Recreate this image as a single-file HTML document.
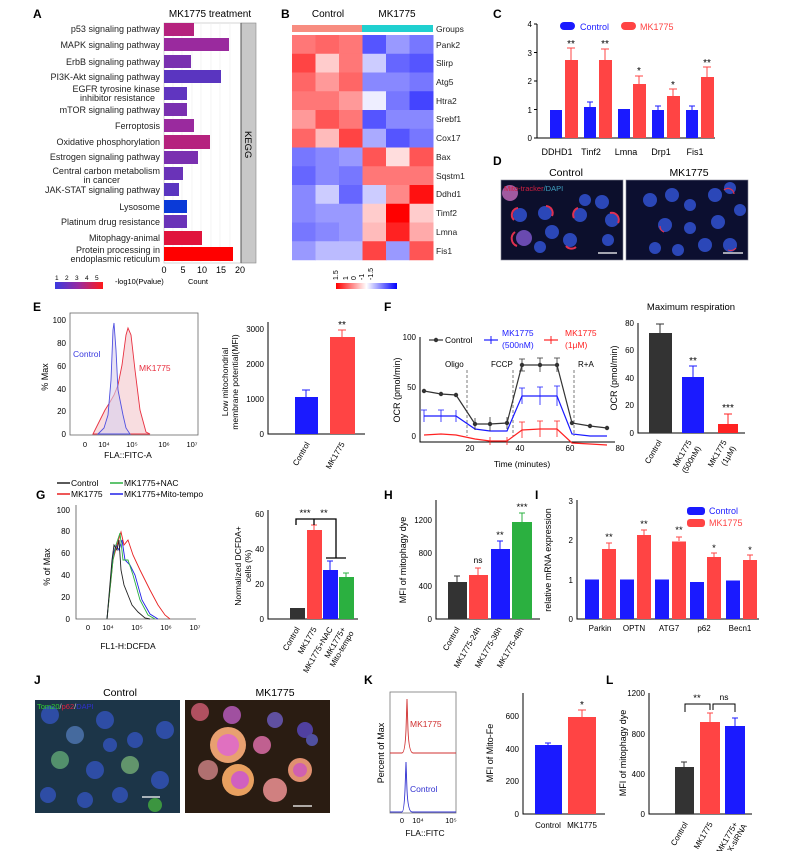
<!DOCTYPE html>
<html><head><meta charset="utf-8"><style>
html,body{margin:0;padding:0;background:#fff;}
svg{display:block;font-family:"Liberation Sans",Arial,sans-serif;}
</style></head><body>
<svg width="796" height="851" viewBox="0 0 796 851" xmlns="http://www.w3.org/2000/svg">
<defs>
<linearGradient id="pg" x1="0" x2="1"><stop offset="0" stop-color="#3a3ae0"/><stop offset="0.5" stop-color="#9a2a9e"/><stop offset="1" stop-color="#ff1a1a"/></linearGradient>
<linearGradient id="hg" x1="0" x2="1"><stop offset="0" stop-color="#f00"/><stop offset="0.5" stop-color="#fff"/><stop offset="1" stop-color="#00f"/></linearGradient>
</defs>
<rect width="796" height="851" fill="#fff"/>
<g font-weight="bold" font-size="12">
<text x="33" y="18">A</text><text x="281" y="18">B</text><text x="493" y="18">C</text><text x="493" y="165">D</text>
<text x="33" y="311">E</text><text x="384" y="311">F</text><text x="36" y="499">G</text><text x="384" y="499">H</text><text x="535" y="499">I</text>
<text x="34" y="684">J</text><text x="364" y="684">K</text><text x="606" y="684">L</text>
</g>

<!-- A -->
<text x="210" y="17" font-size="10" text-anchor="middle">MK1775 treatment</text>
<rect x="164" y="23" width="77" height="240" fill="#fff" stroke="#bbb" stroke-width="0.6"/>
<g stroke="#ececec" stroke-width="0.6">
<line x1="173" y1="23" x2="173" y2="263"/><line x1="182" y1="23" x2="182" y2="263"/><line x1="192" y1="23" x2="192" y2="263"/><line x1="201" y1="23" x2="201" y2="263"/><line x1="211" y1="23" x2="211" y2="263"/><line x1="220" y1="23" x2="220" y2="263"/><line x1="230" y1="23" x2="230" y2="263"/>
</g>
<rect x="241" y="23" width="15" height="240" fill="#c8c8c8" stroke="#888" stroke-width="0.6"/>
<line x1="241" y1="23" x2="241" y2="263" stroke="#555"/>
<text x="0" y="0" font-size="9.5" transform="translate(245,131) rotate(90)">KEGG</text>
<g>
<rect x="164" y="23" width="30" height="13" fill="#b5227e"/>
<rect x="164" y="38" width="65" height="13" fill="#9a2a9e"/>
<rect x="164" y="55" width="27" height="13" fill="#7a30b0"/>
<rect x="164" y="70" width="57" height="13" fill="#5a35c0"/>
<rect x="164" y="87" width="23" height="13" fill="#6035c0"/>
<rect x="164" y="103" width="23" height="13" fill="#7a30b0"/>
<rect x="164" y="119" width="30" height="13" fill="#9a2a9e"/>
<rect x="164" y="135" width="46" height="14" fill="#b5227e"/>
<rect x="164" y="151" width="34" height="13" fill="#7a30b0"/>
<rect x="164" y="167" width="19" height="13" fill="#6a33b8"/>
<rect x="164" y="183" width="15" height="13" fill="#5a35c0"/>
<rect x="164" y="200" width="23" height="13" fill="#0a3ad8"/>
<rect x="164" y="215" width="23" height="13" fill="#6a33b8"/>
<rect x="164" y="231" width="38" height="14" fill="#e0143c"/>
<rect x="164" y="247" width="69" height="14" fill="#ff0000"/>
</g>
<g font-size="9" text-anchor="end" fill="#222">
<text x="160" y="32">p53 signaling pathway</text>
<text x="160" y="48">MAPK signaling pathway</text>
<text x="160" y="65">ErbB signaling pathway</text>
<text x="160" y="80">PI3K-Akt signaling pathway</text>
<text x="160" y="92">EGFR tyrosine kinase</text><text x="155" y="101">inhibitor resistance</text>
<text x="160" y="113">mTOR signaling pathway</text>
<text x="160" y="129">Ferroptosis</text>
<text x="160" y="145">Oxidative phosphorylation</text>
<text x="160" y="160">Estrogen signaling pathway</text>
<text x="160" y="174">Central carbon metabolism</text><text x="120" y="183">in cancer</text>
<text x="160" y="193">JAK-STAT signaling pathway</text>
<text x="160" y="210">Lysosome</text>
<text x="160" y="225">Platinum drug resistance</text>
<text x="160" y="241">Mitophagy-animal</text>
<text x="160" y="253">Protein processing in</text><text x="160" y="262">endoplasmic reticulum</text>
</g>
<g font-size="9" text-anchor="middle"><text x="164" y="273">0</text><text x="183" y="273">5</text><text x="202" y="273">10</text><text x="221" y="273">15</text><text x="240" y="273">20</text></g>
<g font-size="6.5"><text x="55" y="280">1</text><text x="65" y="280">2</text><text x="75" y="280">3</text><text x="85" y="280">4</text><text x="95" y="280">5</text></g>
<rect x="55" y="282" width="48" height="7" fill="url(#pg)"/>
<text x="115" y="284" font-size="7.5">-log10(Pvalue)</text><text x="188" y="284" font-size="7.5">Count</text>

<!-- B heatmap -->
<text x="328" y="17" font-size="10" text-anchor="middle">Control</text>
<text x="397" y="17" font-size="10" text-anchor="middle">MK1775</text>
<rect x="292" y="25" width="70" height="7" fill="#f88c80"/>
<rect x="362" y="25" width="71" height="7" fill="#20d0d0"/>
<g font-size="8.5" fill="#222">
<text x="436" y="32">Groups</text>
<text x="436" y="48">Pank2</text><text x="436" y="66">Slirp</text><text x="436" y="85">Atg5</text><text x="436" y="104">Htra2</text><text x="436" y="122">Srebf1</text><text x="436" y="141">Cox17</text><text x="436" y="160">Bax</text><text x="436" y="179">Sqstm1</text><text x="436" y="197">Ddhd1</text><text x="436" y="216">Timf2</text><text x="436" y="235">Lmna</text><text x="436" y="254">Fis1</text>
</g>
<g id="hm">
<rect x="292" y="35" width="24" height="19" fill="#f77"/><rect x="315.5" y="35" width="24" height="19" fill="#f66"/><rect x="339" y="35" width="24" height="19" fill="#f77"/><rect x="362.5" y="35" width="24" height="19" fill="#55f"/><rect x="386" y="35" width="24" height="19" fill="#99f"/><rect x="409.5" y="35" width="24" height="19" fill="#77f"/>
<rect x="292" y="53.75" width="24" height="19" fill="#f44"/><rect x="315.5" y="53.75" width="24" height="19" fill="#fcc"/><rect x="339" y="53.75" width="24" height="19" fill="#f77"/><rect x="362.5" y="53.75" width="24" height="19" fill="#ccf"/><rect x="386" y="53.75" width="24" height="19" fill="#66f"/><rect x="409.5" y="53.75" width="24" height="19" fill="#55f"/>
<rect x="292" y="72.5" width="24" height="19" fill="#f66"/><rect x="315.5" y="72.5" width="24" height="19" fill="#f99"/><rect x="339" y="72.5" width="24" height="19" fill="#f66"/><rect x="362.5" y="72.5" width="24" height="19" fill="#88f"/><rect x="386" y="72.5" width="24" height="19" fill="#88f"/><rect x="409.5" y="72.5" width="24" height="19" fill="#77f"/>
<rect x="292" y="91.25" width="24" height="19" fill="#f77"/><rect x="315.5" y="91.25" width="24" height="19" fill="#f77"/><rect x="339" y="91.25" width="24" height="19" fill="#f99"/><rect x="362.5" y="91.25" width="24" height="19" fill="#eef"/><rect x="386" y="91.25" width="24" height="19" fill="#77f"/><rect x="409.5" y="91.25" width="24" height="19" fill="#44f"/>
<rect x="292" y="110" width="24" height="19" fill="#f99"/><rect x="315.5" y="110" width="24" height="19" fill="#f55"/><rect x="339" y="110" width="24" height="19" fill="#f77"/><rect x="362.5" y="110" width="24" height="19" fill="#55f"/><rect x="386" y="110" width="24" height="19" fill="#88f"/><rect x="409.5" y="110" width="24" height="19" fill="#88f"/>
<rect x="292" y="128.75" width="24" height="19" fill="#f66"/><rect x="315.5" y="128.75" width="24" height="19" fill="#fbb"/><rect x="339" y="128.75" width="24" height="19" fill="#f44"/><rect x="362.5" y="128.75" width="24" height="19" fill="#aaf"/><rect x="386" y="128.75" width="24" height="19" fill="#55f"/><rect x="409.5" y="128.75" width="24" height="19" fill="#77f"/>
<rect x="292" y="147.5" width="24" height="19" fill="#77f"/><rect x="315.5" y="147.5" width="24" height="19" fill="#88f"/><rect x="339" y="147.5" width="24" height="19" fill="#99f"/><rect x="362.5" y="147.5" width="24" height="19" fill="#f55"/><rect x="386" y="147.5" width="24" height="19" fill="#fdd"/><rect x="409.5" y="147.5" width="24" height="19" fill="#f55"/>
<rect x="292" y="166.25" width="24" height="19" fill="#66f"/><rect x="315.5" y="166.25" width="24" height="19" fill="#88f"/><rect x="339" y="166.25" width="24" height="19" fill="#77f"/><rect x="362.5" y="166.25" width="24" height="19" fill="#f77"/><rect x="386" y="166.25" width="24" height="19" fill="#f77"/><rect x="409.5" y="166.25" width="24" height="19" fill="#f77"/>
<rect x="292" y="185" width="24" height="19" fill="#88f"/><rect x="315.5" y="185" width="24" height="19" fill="#ccf"/><rect x="339" y="185" width="24" height="19" fill="#66f"/><rect x="362.5" y="185" width="24" height="19" fill="#ccf"/><rect x="386" y="185" width="24" height="19" fill="#f88"/><rect x="409.5" y="185" width="24" height="19" fill="#f11"/>
<rect x="292" y="203.75" width="24" height="19" fill="#88f"/><rect x="315.5" y="203.75" width="24" height="19" fill="#99f"/><rect x="339" y="203.75" width="24" height="19" fill="#99f"/><rect x="362.5" y="203.75" width="24" height="19" fill="#fcc"/><rect x="386" y="203.75" width="24" height="19" fill="#f00"/><rect x="409.5" y="203.75" width="24" height="19" fill="#fcc"/>
<rect x="292" y="222.5" width="24" height="19" fill="#77f"/><rect x="315.5" y="222.5" width="24" height="19" fill="#88f"/><rect x="339" y="222.5" width="24" height="19" fill="#99f"/><rect x="362.5" y="222.5" width="24" height="19" fill="#fbb"/><rect x="386" y="222.5" width="24" height="19" fill="#f22"/><rect x="409.5" y="222.5" width="24" height="19" fill="#faa"/>
<rect x="292" y="241.25" width="24" height="19" fill="#99f"/><rect x="315.5" y="241.25" width="24" height="19" fill="#bbf"/><rect x="339" y="241.25" width="24" height="19" fill="#bbf"/><rect x="362.5" y="241.25" width="24" height="19" fill="#f44"/><rect x="386" y="241.25" width="24" height="19" fill="#99f"/><rect x="409.5" y="241.25" width="24" height="19" fill="#f55"/>
</g>
<g font-size="7"><text transform="translate(338,280) rotate(-90)">1.5</text><text transform="translate(348,280) rotate(-90)">1</text><text transform="translate(356,280) rotate(-90)">0</text><text transform="translate(364,280) rotate(-90)">-1</text><text transform="translate(373,280) rotate(-90)">-1.5</text></g>
<rect x="336" y="283" width="61" height="6" fill="url(#hg)"/>

<!-- C -->
<g font-size="8" text-anchor="end"><text x="532" y="141">0</text><text x="532" y="113">1</text><text x="532" y="84">2</text><text x="532" y="56">3</text><text x="532" y="27">4</text></g>
<path d="M537 24V138H715" fill="none" stroke="#000"/>
<g stroke="#000"><line x1="534" y1="138" x2="537" y2="138"/><line x1="534" y1="109.5" x2="537" y2="109.5"/><line x1="534" y1="81" x2="537" y2="81"/><line x1="534" y1="52.5" x2="537" y2="52.5"/><line x1="534" y1="24" x2="537" y2="24"/></g>
<rect x="560" y="22" width="15" height="8" rx="4" fill="#1a1aff"/><text x="580" y="30" font-size="9" fill="#1a1aff">Control</text>
<rect x="621" y="22" width="15" height="8" rx="4" fill="#f44"/><text x="640" y="30" font-size="9" fill="#f44">MK1775</text>
<g fill="#1a1aff" stroke="#1a1aff">
<rect x="550" y="110" width="12" height="28" stroke="none"/>
<rect x="584" y="107" width="12" height="31" stroke="none"/><line x1="590" y1="107" x2="590" y2="102"/><line x1="587" y1="102" x2="593" y2="102"/>
<rect x="618" y="109" width="12" height="29" stroke="none"/>
<rect x="652" y="110" width="12" height="28" stroke="none"/><line x1="658" y1="110" x2="658" y2="106"/><line x1="655" y1="106" x2="661" y2="106"/>
<rect x="686" y="110" width="12" height="28" stroke="none"/><line x1="692" y1="110" x2="692" y2="106"/><line x1="689" y1="106" x2="695" y2="106"/>
</g>
<g fill="#f44" stroke="#f44">
<rect x="565" y="60" width="13" height="78" stroke="none"/><line x1="571" y1="60" x2="571" y2="48"/><line x1="567" y1="48" x2="575" y2="48"/>
<rect x="599" y="60" width="13" height="78" stroke="none"/><line x1="605" y1="60" x2="605" y2="49"/><line x1="601" y1="49" x2="609" y2="49"/>
<rect x="633" y="84" width="13" height="54" stroke="none"/><line x1="639" y1="84" x2="639" y2="76"/><line x1="635" y1="76" x2="643" y2="76"/>
<rect x="667" y="96" width="13" height="42" stroke="none"/><line x1="673" y1="96" x2="673" y2="89"/><line x1="669" y1="89" x2="677" y2="89"/>
<rect x="701" y="77" width="13" height="61" stroke="none"/><line x1="707" y1="77" x2="707" y2="67"/><line x1="703" y1="67" x2="711" y2="67"/>
</g>
<g font-size="10" text-anchor="middle"><text x="571" y="47">**</text><text x="605" y="47">**</text><text x="639" y="74">*</text><text x="673" y="88">*</text><text x="707" y="66">**</text></g>
<g font-size="9" text-anchor="middle"><text x="557" y="155">DDHD1</text><text x="591" y="155">Tinf2</text><text x="626" y="155">Lmna</text><text x="661" y="155">Drp1</text><text x="695" y="155">Fis1</text></g>

<!-- D -->
<text x="566" y="176" font-size="10.5" text-anchor="middle">Control</text>
<text x="689" y="176" font-size="10.5" text-anchor="middle">MK1775</text>
<rect x="501" y="180" width="122" height="80" fill="#0c0f2c" stroke="#889" stroke-width="0.6"/>
<rect x="626" y="180" width="122" height="80" fill="#0c0f30" stroke="#889" stroke-width="0.6"/>
<g fill="#2b47b8">
<circle cx="510" cy="193" r="8" fill="#a05aa0"/><circle cx="520" cy="215" r="7"/><circle cx="524" cy="238" r="8" fill="#6a4ab0"/><circle cx="545" cy="213" r="7"/><circle cx="552" cy="232" r="7"/><circle cx="570" cy="240" r="7"/><circle cx="580" cy="215" r="7"/><circle cx="602" cy="202" r="7"/><circle cx="612" cy="220" r="7"/><circle cx="608" cy="240" r="6"/><circle cx="585" cy="200" r="6"/><circle cx="540" cy="247" r="6"/>
<circle cx="650" cy="200" r="7"/><circle cx="672" cy="195" r="7"/><circle cx="690" cy="205" r="6"/><circle cx="715" cy="195" r="7"/><circle cx="730" cy="188" r="6"/><circle cx="665" cy="225" r="7"/><circle cx="690" cy="228" r="6"/><circle cx="718" cy="222" r="7"/><circle cx="740" cy="210" r="6"/><circle cx="705" cy="245" r="7"/><circle cx="730" cy="245" r="7"/><circle cx="655" cy="248" r="6"/><circle cx="678" cy="250" r="6"/>
</g>
<g fill="none" stroke="#e03050" stroke-width="2">
<path d="M518 208 a7 7 0 0 0 -4 12"/><path d="M546 206 a7 7 0 0 1 6 10"/><path d="M515 232 a8 8 0 0 0 2 14"/><path d="M578 208 a7 7 0 0 0 -4 10"/><path d="M610 213 a7 7 0 0 1 8 10"/><path d="M566 246 a7 7 0 0 0 10 1"/>
<path d="M724 190 a6 6 0 0 1 10 4" stroke-width="1.2"/><path d="M660 226 a6 6 0 0 0 4 6" stroke-width="1.2"/><path d="M728 250 a7 7 0 0 0 8 -2" stroke-width="1.2"/>
</g>
<text x="504" y="191" font-size="7.5" fill="#d02040">Mito-tracker<tspan fill="#40a0c0">/DAPI</tspan></text>
<line x1="598" y1="253" x2="617" y2="253" stroke="#fff" stroke-width="1.2"/><line x1="723" y1="253" x2="743" y2="253" stroke="#fff" stroke-width="1.2"/>

<!-- E hist -->
<rect x="70" y="313" width="128" height="122" fill="none" stroke="#666" stroke-width="0.8"/>
<path d="M93 434 L100 420 L105 410 L110 402 L114 395 L118 385 L122 365 L126 335 L128 328 L131 335 L135 370 L140 410 L146 432 L150 434Z" fill="#f6d4d8" fill-opacity="0.8" stroke="#e83040" stroke-width="0.9"/>
<path d="M98 434 L104 428 L108 415 L111 380 L113 330 L114 323 L116 350 L118 390 L120 400 L123 415 L126 428 L130 434Z" fill="#d8d0ec" fill-opacity="0.6" stroke="#5050e0" stroke-width="0.9"/>
<text x="73" y="357" font-size="8.5" fill="#3a3ae0">Control</text>
<text x="139" y="371" font-size="8.5" fill="#e83040">MK1775</text>
<g font-size="8" text-anchor="end"><text x="66" y="323">100</text><text x="66" y="346">80</text><text x="66" y="369">60</text><text x="66" y="392">40</text><text x="66" y="414">20</text><text x="66" y="437">0</text></g>
<g font-size="7.5" text-anchor="middle"><text x="85" y="447">0</text><text x="104" y="447">10⁴</text><text x="132" y="447">10⁵</text><text x="164" y="447">10⁶</text><text x="192" y="447">10⁷</text></g>
<text transform="translate(48,377) rotate(-90)" font-size="9" text-anchor="middle">% Max</text>
<text x="128" y="458" font-size="8.5" text-anchor="middle">FLA::FITC-A</text>
<!-- E bar -->
<path d="M268 322V434H365" fill="none" stroke="#000"/>
<g font-size="8" text-anchor="end"><text x="264" y="437">0</text><text x="264" y="402">1000</text><text x="264" y="367">2000</text><text x="264" y="332">3000</text></g>
<rect x="295" y="397" width="23" height="37" fill="#1a1aff"/><path d="M306 397V390M302 390H310" stroke="#1a1aff"/>
<rect x="330" y="337" width="25" height="97" fill="#f44"/><path d="M342 337V330M338 330H346" stroke="#f44"/>
<text x="342" y="328" font-size="10" text-anchor="middle">**</text>
<text transform="translate(228,382) rotate(-90)" font-size="8.5" text-anchor="middle">Low mitochondrial</text>
<text transform="translate(238,382) rotate(-90)" font-size="8.5" text-anchor="middle">membrane potential(MFI)</text>
<text transform="translate(310,444) rotate(-60)" font-size="8" text-anchor="end">Control</text>
<text transform="translate(345,444) rotate(-60)" font-size="8" text-anchor="end">MK1775</text>

<!-- F line -->
<path d="M420 337V442H615" fill="none" stroke="#000"/>
<g font-size="8" text-anchor="end"><text x="416" y="439">0</text><text x="416" y="390">50</text><text x="416" y="340">100</text></g>
<g font-size="8" text-anchor="middle"><text x="470" y="451">20</text><text x="520" y="451">40</text><text x="570" y="451">60</text><text x="620" y="451">80</text></g>
<text x="522" y="467" font-size="8.5" text-anchor="middle">Time (minutes)</text>
<text transform="translate(400,390) rotate(-90)" font-size="9" text-anchor="middle">OCR (pmol/min)</text>
<g stroke="#444" stroke-dasharray="3,2" stroke-width="0.7"><line x1="467" y1="370" x2="467" y2="436"/><line x1="513" y1="370" x2="513" y2="436"/><line x1="574" y1="370" x2="574" y2="436"/></g>
<g font-size="8"><text x="445" y="367">Oligo</text><text x="491" y="367">FCCP</text><text x="578" y="367">R+A</text></g>
<polyline points="424,391 441,394 456,395 475,424 490,424 507,423 522,365 540,365 557,365 572,423 590,426 607,428" fill="none" stroke="#333" stroke-width="1.2"/>
<polyline points="424,416 441,416 456,416 475,429 490,431 507,431 522,396 540,396 557,396 572,434 590,436 607,436" fill="none" stroke="#1a1aff" stroke-width="1.2"/>
<polyline points="424,435 441,434 456,435 475,439 490,441 507,441 522,430 540,429 557,429 572,443 590,444 607,445" fill="none" stroke="#f22" stroke-width="1.2"/>
<g fill="#333"><circle cx="424" cy="391" r="2.2"/><circle cx="441" cy="394" r="2.2"/><circle cx="456" cy="395" r="2.2"/><circle cx="475" cy="424" r="2.2"/><circle cx="490" cy="424" r="2.2"/><circle cx="507" cy="423" r="2.2"/><circle cx="522" cy="365" r="2.2"/><circle cx="540" cy="365" r="2.2"/><circle cx="557" cy="365" r="2.2"/><circle cx="572" cy="423" r="2.2"/><circle cx="590" cy="426" r="2.2"/><circle cx="607" cy="428" r="2.2"/></g>
<g stroke="#333" stroke-width="0.8"><path d="M522 359V371M519 359H525M519 371H525M540 358V372M537 358H543M557 358V372M554 358H560M475 418V430M490 417V431M507 417V429"/></g>
<g stroke="#1a1aff" stroke-width="0.8"><path d="M424 410V422M421 410H427M441 410V422M438 410H444M456 410V422M522 388V404M519 388H525M540 387V405M537 387H543M557 386V406M554 386H560"/></g>
<g stroke="#f22" stroke-width="0.8"><path d="M522 422V438M519 422H525M540 421V437M537 421H543M557 421V437M554 421H560M490 437V445M507 437V445"/></g>
<line x1="429" y1="340" x2="443" y2="340" stroke="#333" stroke-width="1.2"/><circle cx="436" cy="340" r="2.2" fill="#333"/><text x="445" y="343" font-size="8.5">Control</text>
<line x1="484" y1="340" x2="498" y2="340" stroke="#1a1aff" stroke-width="1.2"/><path d="M491 336V344" stroke="#1a1aff"/><text x="502" y="336" font-size="8.5" fill="#1a1aff">MK1775</text><text x="502" y="348" font-size="8.5" fill="#1a1aff">(500nM)</text>
<line x1="544" y1="340" x2="558" y2="340" stroke="#f22" stroke-width="1.2"/><path d="M551 336V344" stroke="#f22"/><text x="565" y="336" font-size="8.5" fill="#f22">MK1775</text><text x="565" y="348" font-size="8.5" fill="#f22">(1μM)</text>
<!-- Max resp -->
<text x="691" y="310" font-size="9.5" text-anchor="middle">Maximum respiration</text>
<path d="M638 323V433H745" fill="none" stroke="#000"/>
<g font-size="8" text-anchor="end"><text x="634" y="436">0</text><text x="634" y="408">20</text><text x="634" y="381">40</text><text x="634" y="353">60</text><text x="634" y="326">80</text></g>
<rect x="649" y="333" width="23" height="100" fill="#333"/><path d="M660 333V324M656 324H664" stroke="#333"/>
<rect x="682" y="377" width="22" height="56" fill="#1a1aff"/><path d="M693 377V366M689 366H697" stroke="#1a1aff"/>
<rect x="718" y="424" width="20" height="9" fill="#f22"/><path d="M728 424V414M724 414H732" stroke="#f22"/>
<text x="693" y="364" font-size="10" text-anchor="middle">**</text><text x="728" y="411" font-size="10" text-anchor="middle">***</text>
<text transform="translate(617,378) rotate(-90)" font-size="9" text-anchor="middle">OCR (pmol/min)</text>
<g font-size="8" text-anchor="end"><text transform="translate(662,442) rotate(-60)">Control</text><text transform="translate(692,442) rotate(-60)">MK1775</text><text transform="translate(701,448) rotate(-60)">(500nM)</text><text transform="translate(727,442) rotate(-60)">MK1775</text><text transform="translate(736,448) rotate(-60)">(1μM)</text></g>

<!-- G -->
<line x1="57" y1="483" x2="70" y2="483" stroke="#222" stroke-width="1.5"/><text x="71" y="486" font-size="8.5">Control</text>
<line x1="110" y1="483" x2="123" y2="483" stroke="#2bb040" stroke-width="1.5"/><text x="124" y="486" font-size="8.5">MK1775+NAC</text>
<line x1="57" y1="494" x2="70" y2="494" stroke="#e82020" stroke-width="1.5"/><text x="71" y="497" font-size="8.5">MK1775</text>
<line x1="110" y1="494" x2="123" y2="494" stroke="#2020e8" stroke-width="1.5"/><text x="124" y="497" font-size="8.5">MK1775+Mito-tempo</text>
<path d="M76 505V619H196" fill="none" stroke="#555" stroke-width="0.8"/>
<g font-size="8" text-anchor="end"><text x="70" y="513">100</text><text x="70" y="534">80</text><text x="70" y="556">60</text><text x="70" y="578">40</text><text x="70" y="600">20</text><text x="70" y="622">0</text></g>
<g font-size="7.5" text-anchor="middle"><text x="88" y="630">0</text><text x="108" y="630">10⁴</text><text x="137" y="630">10⁵</text><text x="166" y="630">10⁶</text><text x="195" y="630">10⁷</text></g>
<text transform="translate(50,567) rotate(-90)" font-size="9" text-anchor="middle">% of Max</text>
<text x="128" y="649" font-size="8.5" text-anchor="middle">FL1-H:DCFDA</text>
<g fill="none" stroke-width="0.9">
<polyline stroke="#e82020" points="107,619 113,560 117,545 121,532 124,545 128,540 133,555 140,570 150,590 158,605 165,615 170,619"/>
<polyline stroke="#2020e8" points="107,619 113,555 116,545 119,550 122,540 125,560 130,565 135,575 142,600 150,614 158,619"/>
<polyline stroke="#2bb040" points="107,619 113,560 116,545 120,533 123,560 128,560 133,575 140,600 148,615 155,619"/>
<polyline stroke="#222" points="107,619 112,560 114,545 117,550 119,540 121,570 124,585 128,595 132,605 138,612 145,618 150,619"/>
</g>
<!-- G bar -->
<path d="M268 510V619H358" fill="none" stroke="#000"/>
<g font-size="8" text-anchor="end"><text x="264" y="622">0</text><text x="264" y="587">20</text><text x="264" y="552">40</text><text x="264" y="517">60</text></g>
<rect x="290" y="608" width="15" height="11" fill="#333"/>
<rect x="307" y="530" width="15" height="89" fill="#f44"/><path d="M314 530V525M311 525H317" stroke="#f44"/>
<rect x="323" y="570" width="15" height="49" fill="#1a1aff"/><path d="M330 570V561M327 561H333" stroke="#1a1aff"/>
<rect x="339" y="577" width="15" height="42" fill="#2bb040"/><path d="M346 577V573M343 573H349" stroke="#2bb040"/>
<path d="M296 525V519H314V525M314 519H336V558M326 558H346" fill="none" stroke="#000" stroke-width="1.3"/>
<text x="305" y="516" font-size="9.5" text-anchor="middle">***</text><text x="324" y="516" font-size="9.5" text-anchor="middle">**</text>
<text transform="translate(241,566) rotate(-90)" font-size="8.5" text-anchor="middle">Normalized DCFDA+</text>
<text transform="translate(251,566) rotate(-90)" font-size="8.5" text-anchor="middle">cells (%)</text>
<g font-size="8" text-anchor="end"><text transform="translate(300,629) rotate(-60)">Control</text><text transform="translate(317,629) rotate(-60)">MK1775</text><text transform="translate(333,629) rotate(-60)">MK1775+NAC</text><text transform="translate(346,629) rotate(-60)">MK1775+</text><text transform="translate(354,633) rotate(-60)">Mito-tempo</text></g>

<!-- H -->
<path d="M436 500V619H540" fill="none" stroke="#000"/>
<g font-size="8" text-anchor="end"><text x="432" y="622">0</text><text x="432" y="589">400</text><text x="432" y="556">800</text><text x="432" y="523">1200</text></g>
<rect x="448" y="582" width="19" height="37" fill="#333"/><path d="M457 582V576M454 576H460" stroke="#333"/>
<rect x="469" y="575" width="19" height="44" fill="#f44"/><path d="M478 575V568M475 568H481" stroke="#f44"/>
<rect x="491" y="549" width="19" height="70" fill="#1a1aff"/><path d="M500 549V541M497 541H503" stroke="#1a1aff"/>
<rect x="512" y="522" width="20" height="97" fill="#2bb040"/><path d="M522 522V513M519 513H525" stroke="#2bb040"/>
<text x="478" y="563" font-size="8.5" text-anchor="middle">ns</text><text x="500" y="538" font-size="9.5" text-anchor="middle">**</text><text x="522" y="510" font-size="9.5" text-anchor="middle">***</text>
<text transform="translate(406,560) rotate(-90)" font-size="9" text-anchor="middle">MFI of mitophagy dye</text>
<g font-size="8" text-anchor="end"><text transform="translate(460,629) rotate(-60)">Control</text><text transform="translate(481,629) rotate(-60)">MK1775-24h</text><text transform="translate(502,629) rotate(-60)">MK1775-36h</text><text transform="translate(524,629) rotate(-60)">MK1775-48h</text></g>

<!-- I -->
<path d="M577 500V619H759" fill="none" stroke="#000"/>
<g font-size="8" text-anchor="end"><text x="573" y="622">0</text><text x="573" y="583">1</text><text x="573" y="543">2</text><text x="573" y="504">3</text></g>
<g fill="#1a1aff">
<rect x="585" y="579.5" width="14" height="39.5"/><rect x="620" y="579.5" width="14" height="39.5"/><rect x="655" y="579.5" width="14" height="39.5"/><rect x="690" y="582" width="14" height="37"/><rect x="726" y="580.5" width="14" height="38.5"/>
</g>
<g fill="#f44">
<rect x="602" y="549" width="14" height="70"/><rect x="637" y="535" width="14" height="84"/><rect x="672" y="541.5" width="14" height="77.5"/><rect x="707" y="557" width="14" height="62"/><rect x="743" y="560" width="14" height="59"/>
</g>
<path d="M609 549V543M606 543H612M644 535V530M641 530H647M679 541V537M676 537H682M714 557V553M711 553H717M750 560V555M747 555H753" stroke="#f44"/>
<g font-size="9.5" text-anchor="middle"><text x="609" y="540">**</text><text x="644" y="527">**</text><text x="679" y="533">**</text><text x="714" y="551">*</text><text x="750" y="553">*</text></g>
<g font-size="8" text-anchor="middle"><text x="600" y="631">Parkin</text><text x="634" y="631">OPTN</text><text x="669" y="631">ATG7</text><text x="704" y="631">p62</text><text x="740" y="631">Becn1</text></g>
<rect x="687" y="507" width="18" height="8" rx="3" fill="#1a1aff"/><text x="709" y="514" font-size="9" fill="#1a1aff">Control</text>
<rect x="687" y="519" width="18" height="8" rx="3" fill="#f44"/><text x="709" y="526" font-size="9" fill="#f44">MK1775</text>
<text transform="translate(551,560) rotate(-90)" font-size="9" text-anchor="middle">relative mRNA expression</text>

<!-- J -->
<text x="120" y="696" font-size="10.5" text-anchor="middle">Control</text>
<text x="275" y="696" font-size="10.5" text-anchor="middle">MK1775</text>
<rect x="35" y="700" width="145" height="113" fill="#1c3548"/>
<g fill="#3050b0" opacity="0.9">
<circle cx="50" cy="715" r="9"/><circle cx="75" cy="735" r="9" fill="#4a70a8"/><circle cx="105" cy="720" r="9"/><circle cx="135" cy="740" r="8"/><circle cx="165" cy="730" r="9"/><circle cx="60" cy="760" r="9" fill="#5a9a70"/><circle cx="95" cy="770" r="9"/><circle cx="130" cy="765" r="9" fill="#6aa070"/><circle cx="160" cy="780" r="9"/><circle cx="48" cy="795" r="8"/><circle cx="85" cy="800" r="8"/><circle cx="120" cy="795" r="8"/><circle cx="155" cy="805" r="7" fill="#40a040"/><circle cx="110" cy="745" r="7"/>
</g>
<text x="37" y="709" font-size="7.5" fill="#30d030">Tom20<tspan fill="#ccc">/</tspan><tspan fill="#e02040">p62</tspan><tspan fill="#ccc">/</tspan><tspan fill="#3030d0">DAPI</tspan></text>
<line x1="142" y1="797" x2="160" y2="797" stroke="#fff" stroke-width="1.3"/>
<rect x="185" y="700" width="145" height="113" fill="#2a1c12"/>
<g>
<circle cx="200" cy="712" r="9" fill="#b05060"/><circle cx="232" cy="715" r="9" fill="#a050a0"/><circle cx="275" cy="720" r="8" fill="#6050a0"/><circle cx="305" cy="730" r="8" fill="#5040a0"/>
<circle cx="228" cy="745" r="18" fill="#e8a070"/><circle cx="228" cy="745" r="11" fill="#e070c0"/>
<circle cx="262" cy="745" r="9" fill="#c06090"/><circle cx="208" cy="770" r="10" fill="#b07070"/>
<circle cx="238" cy="780" r="16" fill="#e8a060"/><circle cx="240" cy="780" r="9" fill="#d060c0"/>
<circle cx="275" cy="790" r="12" fill="#d08080"/><circle cx="300" cy="770" r="12" fill="#e09070"/><circle cx="300" cy="770" r="7" fill="#d060b0"/><circle cx="312" cy="740" r="6" fill="#5050a0"/>
</g>
<line x1="293" y1="806" x2="312" y2="806" stroke="#fff" stroke-width="1.3"/>

<!-- K -->
<rect x="390" y="692" width="66" height="121" fill="none" stroke="#777" stroke-width="0.8"/>
<path d="M390 753H402 Q405 753 406 730 L407 699 L408 730 Q409 753 413 753H456" fill="none" stroke="#d03030" stroke-width="0.9"/>
<path d="M390 812H402 Q404 812 405 790 L406 762 L407 790 Q408 812 412 812H456" fill="none" stroke="#3030d0" stroke-width="0.9"/>
<text x="410" y="727" font-size="8.5" fill="#d03030">MK1775</text>
<text x="410" y="792" font-size="8.5" fill="#3030d0">Control</text>
<text transform="translate(384,753) rotate(-90)" font-size="9" text-anchor="middle">Percent of Max</text>
<g font-size="7.5" text-anchor="middle"><text x="402" y="823">0</text><text x="418" y="823">10⁴</text><text x="451" y="823">10⁵</text></g>
<text x="425" y="836" font-size="8.5" text-anchor="middle">FLA::FITC</text>
<path d="M523 693V814H605" fill="none" stroke="#000"/>
<g font-size="8" text-anchor="end"><text x="519" y="817">0</text><text x="519" y="784">200</text><text x="519" y="752">400</text><text x="519" y="719">600</text></g>
<rect x="535" y="745" width="27" height="69" fill="#1a1aff"/><path d="M548 745V743M545 743H551" stroke="#1a1aff"/>
<rect x="568" y="717" width="28" height="97" fill="#f44"/><path d="M582 717V710M578 710H586" stroke="#f44"/>
<text x="582" y="708" font-size="10" text-anchor="middle">*</text>
<text transform="translate(493,753) rotate(-90)" font-size="9" text-anchor="middle">MFI of Mito-Fe</text>
<g font-size="8" text-anchor="middle"><text x="548" y="828">Control</text><text x="582" y="828">MK1775</text></g>

<!-- L -->
<path d="M649 693V814H752" fill="none" stroke="#000"/>
<g font-size="8" text-anchor="end"><text x="645" y="817">0</text><text x="645" y="777">400</text><text x="645" y="737">800</text><text x="645" y="696">1200</text></g>
<rect x="675" y="767" width="19" height="47" fill="#333"/><path d="M684 767V762M681 762H687" stroke="#333"/>
<rect x="700" y="722" width="20" height="92" fill="#f44"/><path d="M710 722V713M707 713H713" stroke="#f44"/>
<rect x="725" y="726" width="20" height="88" fill="#1a1aff"/><path d="M735 726V718M732 718H738" stroke="#1a1aff"/>
<path d="M685 712V704H710V710M713 710V704H735V712" fill="none" stroke="#000" stroke-width="1"/>
<text x="697" y="701" font-size="9.5" text-anchor="middle">**</text><text x="724" y="700" font-size="8.5" text-anchor="middle">ns</text>
<text transform="translate(626,753) rotate(-90)" font-size="9" text-anchor="middle">MFI of mitophagy dye</text>
<g font-size="8" text-anchor="end"><text transform="translate(688,824) rotate(-60)">Control</text><text transform="translate(713,824) rotate(-60)">MK1775</text><text transform="translate(738,824) rotate(-60)">MK1775+</text><text transform="translate(747,826) rotate(-60)">X-siRNA</text></g>
</svg>
</body></html>
